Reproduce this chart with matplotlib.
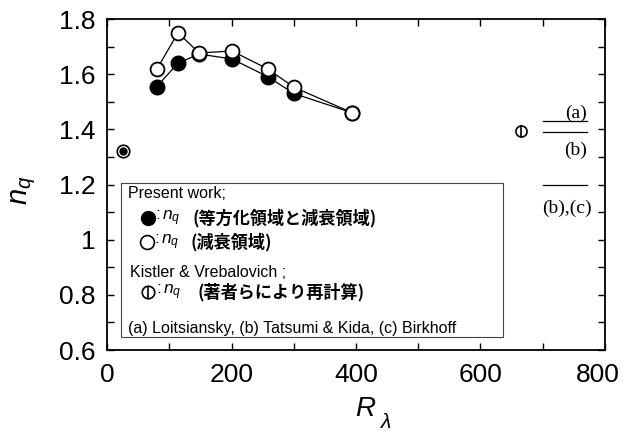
import matplotlib

matplotlib.use("Agg")
import matplotlib.pyplot as plt
from matplotlib.patches import Rectangle
from matplotlib.ticker import MultipleLocator, FuncFormatter

# present work: isotropic + decay region (filled), decay region only (open)
r_iso = [80, 114, 148, 201, 259, 300, 394]
nq_iso = [1.555, 1.640, 1.673, 1.655, 1.590, 1.530, 1.460]
r_decay = [80, 114, 148, 201, 259, 300, 394]
nq_decay = [1.618, 1.750, 1.677, 1.684, 1.618, 1.553, 1.460]

# low-Re point and Kistler & Vrebalovich (recomputed)
r_low, nq_low = [26], [1.320]
r_kv, nq_kv = [665], [1.395]

# theoretical values: (a) Loitsiansky, (b) Tatsumi & Kida, (c) Birkhoff
theory_vals = [10 / 7, 1.39, 1.20]
theory_labels = ["(a)", "(b)", "(b),(c)"]
theory_xrange = (700, 771)

x_ticks = [0, 200, 400, 600, 800]

plt.rcParams["font.family"] = ["Liberation Sans", "Noto Sans CJK JP", "DejaVu Sans"]
plt.rcParams["mathtext.fontset"] = "custom"
plt.rcParams["mathtext.it"] = "Liberation Sans:italic"
plt.rcParams["mathtext.rm"] = "Liberation Sans"

fig = plt.figure(figsize=(6.24, 4.34), dpi=100)
ax = fig.add_axes([0.1715, 0.1935, 0.798, 0.7627])

ax.plot(r_iso, nq_iso, "-o", color="black", lw=0.9, ms=10.5,
        mfc="black", mec="black", zorder=3)
ax.plot(r_decay, nq_decay, "-o", color="black", lw=0.9, ms=10,
        mfc="white", mec="black", mew=1.3, zorder=4)

ax.plot(r_low, nq_low, "o", ms=9, mfc="white", mec="black", mew=1.2, zorder=4)
ax.plot(r_low, nq_low, "o", ms=5, mfc="black", mec="black", zorder=5)

ax.plot(r_kv, nq_kv, "o", ms=8, mfc="white", mec="black", mew=1.2, zorder=4)
ax.plot(r_kv, nq_kv, "|", ms=8, mec="black", mew=1.2, zorder=5)

for val in theory_vals:
    ax.plot(theory_xrange, [val, val], color="black", lw=0.9)
serif = dict(family="Liberation Serif", fontsize=14, va="center")
ax.text(theory_xrange[1], theory_vals[0] + 0.028, theory_labels[0], ha="right", **serif)
ax.text(theory_xrange[1], theory_vals[1] - 0.065, theory_labels[1], ha="right", **serif)
ax.text(theory_xrange[1] + 8, theory_vals[2] - 0.085, theory_labels[2], ha="right", **serif)

ax.set_xlim(0, 800)
ax.set_ylim(0.6, 1.8)
ax.set_xticks(x_ticks, [str(v) for v in x_ticks[:-1]] + [""])
ax.xaxis.set_minor_locator(MultipleLocator(100))
ax.yaxis.set_major_locator(MultipleLocator(0.2))
ax.yaxis.set_minor_locator(MultipleLocator(0.1))
ax.yaxis.set_major_formatter(FuncFormatter(lambda v, _: f"{v:g}"))
ax.tick_params(which="both", direction="in", top=True, right=True,
               length=5, width=1.0, labelsize=19)
ax.tick_params(axis="x", pad=9)
ax.tick_params(axis="y", pad=8)
for s in ax.spines.values():
    s.set_linewidth(1.3)

# last x label sits a little left of its tick so it fits in the figure
ax.text(0.986, -0.075, str(x_ticks[-1]), transform=ax.transAxes,
        ha="center", va="center", fontsize=19)

fig.text(0.038, 0.562, r"$n_q$", rotation=90, ha="center", va="center", fontsize=21)
fig.text(0.585, 0.058, "R", style="italic", ha="center", va="center", fontsize=20)
fig.text(0.619, 0.027, "λ", style="italic", ha="center", va="center", fontsize=15)

# legend box drawn in axes coordinates
tr = ax.transAxes
ax.add_patch(Rectangle((0.028, 0.039), 0.767, 0.466, transform=tr,
                       fill=True, fc="white", ec="#444444", lw=0.8, zorder=6))
fs = 11.5
jp = dict(transform=tr, fontsize=12.3, va="center", fontweight="bold",
          family=["Noto Sans CJK JP"], zorder=7)
ax.text(0.042, 0.474, "Present work;", transform=tr, fontsize=fs, va="center", zorder=7)

ax.plot([0.082], [0.399], "o", transform=tr, ms=10, mfc="black", mec="black",
        clip_on=False, zorder=7)
ax.text(0.097, 0.399, r":$\,n_{q}$", transform=tr, fontsize=12.5, va="center", zorder=7)
ax.text(0.171, 0.399, "(等方化領域と減衰領域)", **jp)

ax.plot([0.080], [0.326], "o", transform=tr, ms=10, mfc="white", mec="black",
        mew=1.2, clip_on=False, zorder=7)
ax.text(0.095, 0.326, r":$\,n_{q}$", transform=tr, fontsize=12.5, va="center", zorder=7)
ax.text(0.167, 0.326, "(減衰領域)", **jp)

ax.text(0.046, 0.233, "Kistler & Vrebalovich ;", transform=tr, fontsize=fs,
        va="center", zorder=7)
ax.plot([0.082], [0.175], "o", transform=tr, ms=9, mfc="white", mec="black",
        mew=1.2, clip_on=False, zorder=7)
ax.plot([0.082], [0.175], "|", transform=tr, ms=9, mec="black",
        mew=1.2, clip_on=False, zorder=8)
ax.text(0.099, 0.175, r":$\,n_{q}$", transform=tr, fontsize=12.5, va="center", zorder=7)
ax.text(0.181, 0.175, "(著者らにより再計算)", **jp)

ax.text(0.042, 0.066, "(a) Loitsiansky, (b) Tatsumi & Kida, (c) Birkhoff",
        transform=tr, fontsize=fs, va="center", zorder=7)

fig.savefig("out.png", dpi=100)
plt.close(fig)
